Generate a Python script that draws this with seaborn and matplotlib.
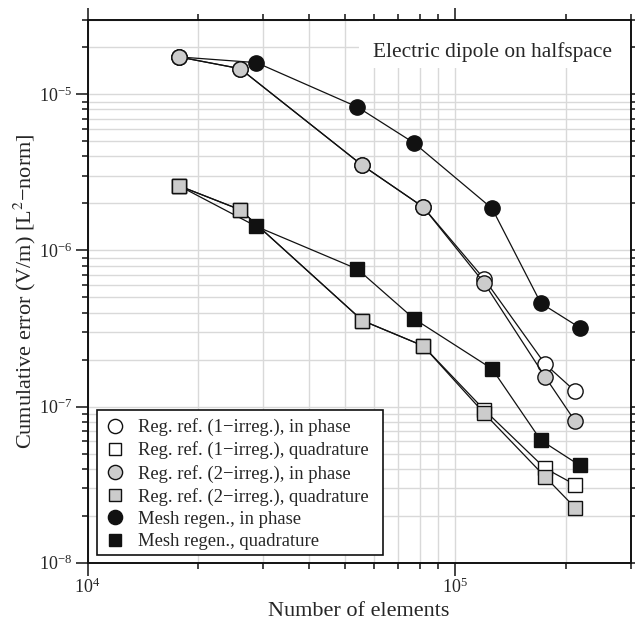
import numpy as np
import pandas as pd
import matplotlib
matplotlib.use("Agg")
import matplotlib.pyplot as plt
from matplotlib.lines import Line2D
from matplotlib.patches import Rectangle
from matplotlib.ticker import LogLocator, LogFormatterSciNotation, NullFormatter
import seaborn as sns

# Number of elements for the regular-refinement runs and the regenerated meshes
elems_ref = [1.77e4, 2.60e4, 5.59e4, 8.18e4, 1.20e5, 1.755e5, 2.12e5]
elems_regen = [1.77e4, 2.88e4, 5.42e4, 7.73e4, 1.26e5, 1.71e5, 2.18e5]

# Cumulative L2 errors (V/m)
ref1_inphase = [1.737e-5, 1.461e-5, 3.51e-6, 1.90e-6, 6.56e-7, 1.878e-7, 1.255e-7]
ref1_quad = [2.60e-6, 1.824e-6, 3.56e-7, 2.45e-7, 9.53e-8, 4.03e-8, 3.16e-8]
ref2_inphase = [1.737e-5, 1.461e-5, 3.51e-6, 1.90e-6, 6.18e-7, 1.557e-7, 8.06e-8]
ref2_quad = [2.60e-6, 1.824e-6, 3.56e-7, 2.45e-7, 9.05e-8, 3.56e-8, 2.25e-8]
regen_inphase = [1.737e-5, 1.597e-5, 8.30e-6, 4.88e-6, 1.859e-6, 4.60e-7, 3.21e-7]
regen_quad = [2.60e-6, 1.425e-6, 7.60e-7, 3.65e-7, 1.745e-7, 6.09e-8, 4.21e-8]

labels = [
    "Reg. ref. (1\u2212irreg.), in phase",
    "Reg. ref. (1\u2212irreg.), quadrature",
    "Reg. ref. (2\u2212irreg.), in phase",
    "Reg. ref. (2\u2212irreg.), quadrature",
    "Mesh regen., in phase",
    "Mesh regen., quadrature",
]

sns.set_style("ticks")
plt.rcParams["font.family"] = ["Liberation Serif", "DejaVu Serif"]
plt.rcParams["mathtext.fontset"] = "stix"

GRAY = "#cccccc"
BLACK = "#111111"
WHITE = "#ffffff"

series = [
    # (x, y, marker, face, size, zorder)
    (elems_ref, ref1_inphase, "o", WHITE, 11, 3),
    (elems_ref, ref1_quad, "s", WHITE, 9.5, 3),
    (elems_ref, ref2_inphase, "o", GRAY, 11, 4),
    (elems_ref, ref2_quad, "s", GRAY, 9.5, 4),
    (elems_regen, regen_inphase, "o", BLACK, 11, 2),
    (elems_regen, regen_quad, "s", BLACK, 9.5, 2),
]

fig = plt.figure(figsize=(6.35, 6.21), dpi=100)
ax = fig.add_axes([0.138, 0.0938, 0.855, 0.8742])
ax.set_xscale("log")
ax.set_yscale("log")

for (x, y, m, fc, ms, z), lab in zip(series, labels):
    df = pd.DataFrame({"elements": x, "error": y})
    sns.lineplot(data=df, x="elements", y="error", ax=ax, sort=False,
                 estimator=None, color=BLACK, lw=0.9, marker=m,
                 markersize=ms, markerfacecolor=fc, markeredgecolor=BLACK,
                 markeredgewidth=1.0, zorder=z, legend=False)

ax.set_xlim(1e4, 3e5)
ax.set_ylim(1e-8, 3e-5)

ax.xaxis.set_major_locator(LogLocator(base=10))
ax.xaxis.set_minor_locator(LogLocator(base=10, subs=np.arange(2, 10)))
ax.yaxis.set_major_locator(LogLocator(base=10))
ax.yaxis.set_minor_locator(LogLocator(base=10, subs=np.arange(2, 10)))
ax.xaxis.set_major_formatter(LogFormatterSciNotation())
ax.yaxis.set_major_formatter(LogFormatterSciNotation())
ax.xaxis.set_minor_formatter(NullFormatter())
ax.yaxis.set_minor_formatter(NullFormatter())

ax.grid(True, which="both", color="#d9d9d9", lw=1.0, zorder=0)
ax.set_axisbelow(True)

for s in ax.spines.values():
    s.set_visible(True)
    s.set_linewidth(1.4)
    s.set_color(BLACK)

ax.tick_params(which="both", direction="out", top=True, right=True,
               color=BLACK, width=1.1, labelsize=13)
ax.tick_params(which="major", length=9, pad=2)
ax.tick_params(which="minor", length=4.5)

ax.set_xlabel("Number of elements", fontsize=16, labelpad=3)
ax.set_ylabel("Cumulative error (V/m) [L$^2$\u2212norm]", fontsize=16, labelpad=1)

# white panel behind the title in the upper right corner
ax.add_patch(Rectangle((0.4996, 0.911), 0.5004, 0.089, transform=ax.transAxes,
                       fc="white", ec="none", zorder=1))
ax.text(0.965, 0.941, "Electric dipole on halfspace", transform=ax.transAxes,
        ha="right", va="center", fontsize=15.4, zorder=6)

# legend box drawn as a separate framed panel
ax.add_patch(Rectangle((0.0166, 0.0142), 0.5267, 0.267, transform=ax.transAxes,
                       fc="white", ec=BLACK, lw=1.2, zorder=6))

handles = [Line2D([], [], ls="none", marker=m, markersize=ms * 0.93,
                  markerfacecolor=fc, markeredgecolor=BLACK, markeredgewidth=1.0)
           for (_, _, m, fc, ms, _) in series]
leg = ax.legend(handles, labels, loc="lower left",
                bbox_to_anchor=(0.0166, 0.0077), borderaxespad=0,
                fontsize=13.4, frameon=False,
                handlelength=1.07, handletextpad=0.72,
                labelspacing=0.28, borderpad=0.45)
leg.set_zorder(7)

fig.savefig("out.png", dpi=100)
